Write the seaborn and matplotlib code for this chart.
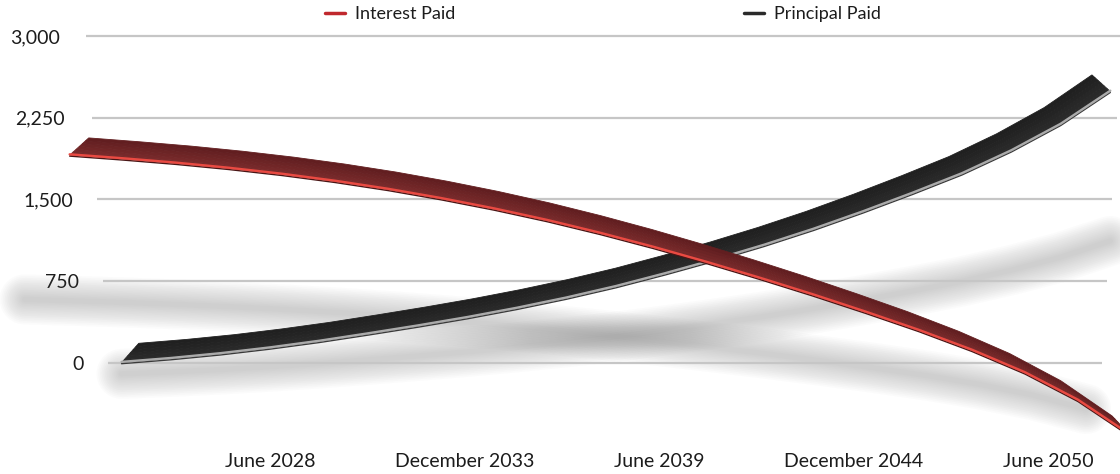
import numpy as np
import pandas as pd
import matplotlib
matplotlib.use("Agg")
import matplotlib.pyplot as plt
import matplotlib.dates as mdates
from matplotlib.colors import to_rgb
from matplotlib.transforms import Affine2D, IdentityTransform
from matplotlib.patches import Polygon
from matplotlib.lines import Line2D
import seaborn as sns

# ---------------- data ----------------
dates = pd.date_range("2022-10-01", periods=21, freq="18MS")
interest_paid = [1907, 1871, 1831, 1784, 1729, 1665, 1591, 1506, 1411, 1305, 1187,
                 1059, 921, 776, 624, 464, 297, 115, -92, -344, -670]
principal_paid = [3, 39, 83, 136, 197, 266, 338, 415, 500, 594, 699,
                  817, 943, 1078, 1225, 1385, 1555, 1734, 1945, 2188, 2491]
series_names = ["Interest Paid", "Principal Paid"]
y_ticks = [0, 750, 1500, 2250, 3000]
y_tick_labels = ["0", "750", "1,500", "2,250", "3,000"]
x_tick_dates = pd.to_datetime(["2028-06-01", "2033-12-01", "2039-06-01",
                               "2044-12-01", "2050-06-01"])
x_tick_labels = ["June 2028", "December 2033", "June 2039",
                 "December 2044", "June 2050"]

n = len(dates)
df = pd.DataFrame({
    "date": list(dates) * 2,
    "value": interest_paid + principal_paid,
    "series": [series_names[0]] * n + [series_names[1]] * n,
})
values = {series_names[0]: interest_paid, series_names[1]: principal_paid}

# ---------------- style ----------------
sns.set_theme(style="white")
plt.rcParams["font.family"] = ["Lato", "DejaVu Sans"]

W, H = 1120, 474
fig = plt.figure(figsize=(W / 100, H / 100), dpi=100, facecolor="white")
ax = fig.add_axes([0, 24 / H, 1, 450 / H])
ax.set_facecolor("white")

face_back = {series_names[0]: "#5f1d1f", series_names[1]: "#1f1f1f"}
face_front = {series_names[0]: "#7e2d2d", series_names[1]: "#2c2c2c"}
highlight = {series_names[0]: "#ea4a42", series_names[1]: "#ababab"}
edge = {series_names[0]: "#4a1616", series_names[1]: "#3a3a3a"}
legend_col = {series_names[0]: "#c0282d", series_names[1]: "#2a2a2a"}

# front-edge highlight lines drawn by seaborn
sns.lineplot(data=df, x="date", y="value", hue="series", hue_order=series_names,
             palette=highlight, linewidth=1.7, legend=False, ax=ax, zorder=6)

ax.set_xlim(pd.Timestamp("2020-10-12"), pd.Timestamp("2052-06-08"))
ax.set_ylim(-798, 3330)

# ---------------- pseudo 3-D perspective ----------------
row_tf = {
    series_names[0]: ax.transData,
    series_names[1]: ax.transData + Affine2D().translate(-827, 0).scale(0.9315, 1).translate(827, 0),
}
vp = (600, 474 + 1500)
kx, ky = 0.036, 0.0104


def depth(f):
    return Affine2D().translate(-vp[0], -vp[1]).scale(1 - kx * f, 1 - ky * f).translate(vp[0], vp[1])


zmap = {series_names[0]: 5, series_names[1]: 3}
xnum = mdates.date2num(dates)
nb = 6
for i, name in enumerate(series_names):
    pts = np.column_stack([xnum, values[name]])
    c0 = np.array(to_rgb(face_front[name]))
    c1 = np.array(to_rgb(face_back[name]))
    for b in range(nb):
        f0, f1 = b / nb, (b + 1) / nb
        e0 = (row_tf[name] + depth(f0)).transform(pts)
        e1 = (row_tf[name] + depth(f1)).transform(pts)
        col = tuple(c0 + (c1 - c0) * (b + 0.5) / nb)
        ax.add_patch(Polygon(np.vstack([e0, e1[::-1]]), closed=True,
                             transform=IdentityTransform(), facecolor=col,
                             edgecolor=col, lw=0.6, zorder=zmap[name], clip_on=False))
    ln = ax.lines[i]
    ln.set_transform(row_tf[name] + Affine2D().translate(0, 0.8))
    ln.set_zorder(zmap[name] + 0.2)
    ln.set_clip_on(False)
    ax.plot(dates, values[name], color=edge[name], lw=1.0, zorder=zmap[name] + 0.1,
            transform=row_tf[name] + Affine2D().translate(0, -1.0), clip_on=False)

# ---------------- soft shadows ----------------
shadow_tf = {
    series_names[0]: row_tf[series_names[0]] + Affine2D().scale(1, 0.39).translate(-45, 50.2),
    series_names[1]: row_tf[series_names[1]] + Affine2D().scale(1, 0.49).translate(0, 45.6),
}
for name in series_names:
    for w in np.linspace(4, 36, 14):
        ax.plot(dates, values[name], color="#6a6a6a", alpha=0.024, lw=w,
                solid_capstyle="round", transform=shadow_tf[name], zorder=1,
                clip_on=False)

# ---------------- gridlines (back wall) ----------------
grid_x0 = np.array([108, 103, 97, 92, 86]) / W
grid_x1 = np.array([1102, 1107, 1112, 1117, 1120]) / W
ax.hlines(y_ticks, grid_x0, grid_x1, transform=ax.get_yaxis_transform(),
          colors="#c6c6c6", lw=1.6, zorder=2)

# ---------------- axes text ----------------
ax.set_yticks(y_ticks, y_tick_labels)
ax.set_xticks(x_tick_dates, x_tick_labels)
ax.tick_params(axis="y", length=0, pad=-60 * 0.72, labelsize=14, labelcolor="#1c1c1c")
ax.tick_params(axis="x", length=0, pad=2, labelsize=14, labelcolor="#1c1c1c")
y_label_shift = [24, 19, 13, 5, 0]
for tick, dx in zip(ax.yaxis.get_major_ticks(), y_label_shift):
    tick.label1.set_transform(tick.label1.get_transform() + Affine2D().translate(dx, 0))
ax.set_xlabel("")
ax.set_ylabel("")
ax.grid(False)
for s in ax.spines.values():
    s.set_visible(False)

handles = [Line2D([], [], color=legend_col[nm], lw=2.5) for nm in series_names]
fig.legend(handles, series_names, loc="center", bbox_to_anchor=(603 / W, 1 - 14 / H),
           ncol=2, frameon=False, fontsize=13, handlelength=1.1, handletextpad=0.55,
           columnspacing=16, borderpad=0, borderaxespad=0, labelcolor="#1c1c1c")

fig.savefig("out.png", dpi=100, facecolor="white")
